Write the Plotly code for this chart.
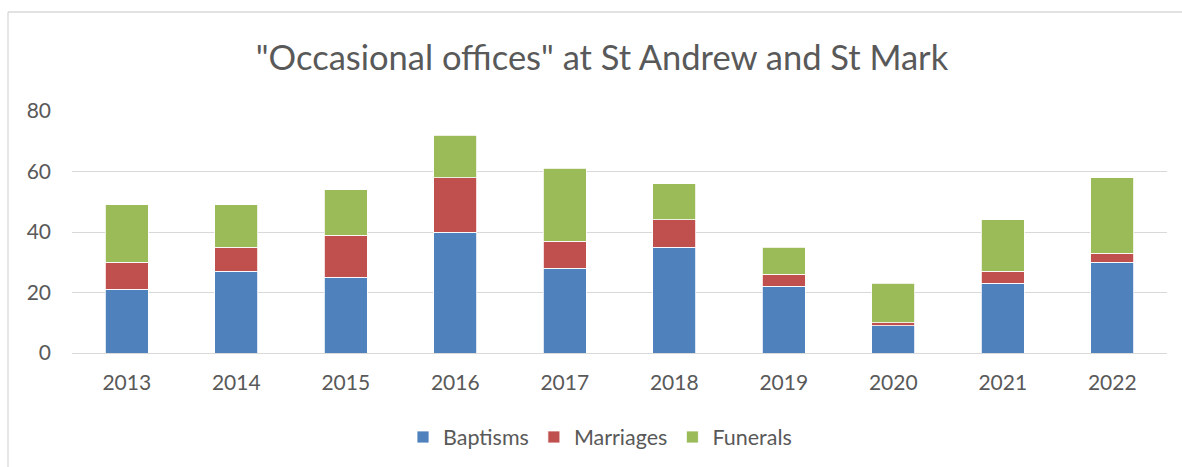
import plotly.graph_objects as go

years = ["2013", "2014", "2015", "2016", "2017", "2018", "2019", "2020", "2021", "2022"]
baptisms = [21, 27, 25, 40, 28, 35, 22, 9, 23, 30]
marriages = [9, 8, 14, 18, 9, 9, 4, 1, 4, 3]
funerals = [19, 14, 15, 14, 24, 12, 9, 13, 17, 25]

series = [
    ("Baptisms", baptisms, "#4F81BD"),
    ("Marriages", marriages, "#C0504D"),
    ("Funerals", funerals, "#9BBB59"),
]

fig = go.Figure()
for name, vals, color in series:
    fig.add_trace(go.Bar(
        x=years, y=vals, name=name,
        marker=dict(color=color, line=dict(color="white", width=0.8)),
    ))

W, H = 1182, 467
L, R, T, B = 72, 15, 111, 114
PW, PH = W - L - R, H - T - B

fig.update_layout(
    width=W, height=H,
    barmode="stack",
    bargap=0.605,
    paper_bgcolor="white",
    plot_bgcolor="white",
    margin=dict(l=L, r=R, t=T, b=B, autoexpand=False),
    font=dict(family="Lato, 'Open Sans', sans-serif", color="#595959", size=21),
    title=dict(
        text='"Occasional offices" at St Andrew and St Mark',
        x=602 / W, xanchor="center",
        y=1 - 58 / H, yanchor="middle",
        font=dict(size=34.5, color="#595959"),
    ),
    xaxis=dict(
        showgrid=False, showline=False, ticks="",
        tickfont=dict(size=21, color="#595959"),
        tickangle=0, automargin=False, ticklabelstandoff=15,
    ),
    yaxis=dict(
        range=[0, 80], dtick=20,
        showgrid=True, gridcolor="#D9D9D9", gridwidth=1.4,
        zeroline=True, zerolinecolor="#D9D9D9", zerolinewidth=1.4,
        showline=False, ticks="",
        tickfont=dict(size=21, color="#595959"),
        ticklabelstandoff=20, automargin=False,
    ),
    legend=dict(
        orientation="h", x=(600 - L) / PW, xanchor="center",
        y=-(437 - 353) / PH, yanchor="middle",
        font=dict(size=21.5, color="#595959"),
        itemwidth=30, traceorder="normal",
    ),
    showlegend=True,
)

# chart-area frame: left and top edges only (right/bottom fall outside the picture)
fig.add_shape(
    type="line", xref="paper", yref="paper",
    x0=(8 - L) / PW, x1=(W + 40 - L) / PW,
    y0=(H - 12 - B) / PH, y1=(H - 12 - B) / PH,
    line=dict(color="#D9D9D9", width=1.3), layer="below",
)
fig.add_shape(
    type="line", xref="paper", yref="paper",
    x0=(8 - L) / PW, x1=(8 - L) / PW,
    y0=-(H + 40 - T - PH) / PH, y1=(H - 12 - B) / PH,
    line=dict(color="#D9D9D9", width=1.3), layer="below",
)

fig.write_html(
    "out.html",
    config={"displayModeBar": False},
    post_script="document.body.style.margin='0';",
)
